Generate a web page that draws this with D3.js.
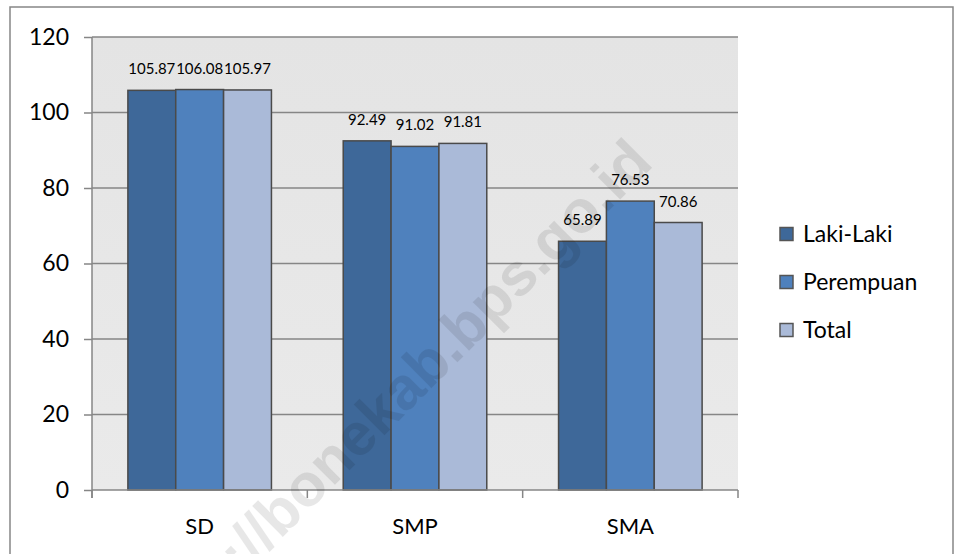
<!DOCTYPE html>
<html>
<head>
  <meta charset="utf-8">
  <title>d3-bar</title>
  <script src="https://d3js.org/d3.v7.min.js"></script>
  <style>
    body { margin: 0; background: #fff; }
    text { font-family: Lato, "Noto Sans", sans-serif; fill: #000; }
  </style>
</head>
<body>
  <script>
    // data
    const categories = ['SD', 'SMP', 'SMA'];
    const series = ['Laki-Laki', 'Perempuan', 'Total'];
    const lakiLaki = [105.87, 92.49, 65.89];
    const perempuan = [106.08, 91.02, 76.53];
    const total = [105.97, 91.81, 70.86];
    const yTicks = [0, 20, 40, 60, 80, 100, 120];
    const colors = ['#3E6899', '#4F81BD', '#AABAD8'];

    const values = [lakiLaki, perempuan, total];
    const rows = categories.map((c, i) => ({
      cat: c,
      vals: series.map((s, j) => ({ key: s, v: values[j][i] }))
    }));

    const width = 956, height = 554;
    const mLeft = 92, mRight = 738, mTop = 37, mBottom = 490;

    let svg = d3.select('body').append('svg')
      .attr('width', width).attr('height', height);

    // outer frame
    svg.append('rect')
      .attr('x', 10).attr('y', 7).attr('width', 943).attr('height', 560)
      .attr('fill', '#fff').attr('stroke', '#868686').attr('stroke-width', 1.5);

    let defs = svg.append('defs');
    let grad = defs.append('linearGradient').attr('id', 'bg')
      .attr('x1', 0).attr('y1', 0).attr('x2', 0).attr('y2', 1);
    grad.append('stop').attr('offset', '0%').attr('stop-color', '#E4E4E4');
    grad.append('stop').attr('offset', '100%').attr('stop-color', '#EAEAEA');

    let y = d3.scaleLinear().domain([0, 120]).range([mBottom, mTop]);
    let x = d3.scaleBand().domain(categories).range([mLeft, mRight]).padding(0);
    let xs = d3.scaleBand().domain(series).range([0, x.bandwidth()])
      .paddingInner(0).paddingOuter(0.75);
    let color = d3.scaleOrdinal().domain(series).range(colors);

    // plot area
    svg.append('rect')
      .attr('x', mLeft).attr('y', mTop)
      .attr('width', mRight - mLeft).attr('height', mBottom - mTop)
      .attr('fill', 'url(#bg)');

    // grid
    svg.append('g').selectAll('line')
      .data(yTicks.filter(d => d > 0))
      .enter().append('line')
      .attr('x1', mLeft).attr('x2', mRight)
      .attr('y1', d => y(d)).attr('y2', d => y(d))
      .attr('stroke', '#868686').attr('stroke-width', 1.5);

    // bars
    let groups = svg.append('g').selectAll('g')
      .data(rows).enter().append('g')
      .attr('transform', d => `translate(${x(d.cat)},0)`);

    groups.selectAll('rect')
      .data(d => d.vals).enter().append('rect')
      .attr('x', d => xs(d.key))
      .attr('y', d => y(d.v))
      .attr('width', xs.bandwidth())
      .attr('height', d => y(0) - y(d.v))
      .attr('fill', d => color(d.key))
      .attr('stroke', '#4A4A4A').attr('stroke-width', 1.5);

    groups.selectAll('text')
      .data(d => d.vals).enter().append('text')
      .attr('x', d => xs(d.key) + xs.bandwidth() / 2)
      .attr('y', d => y(d.v) - 16)
      .attr('text-anchor', 'middle')
      .style('font-size', '15px')
      .text(d => d.v.toFixed(2));

    // y axis
    let yAxis = d3.axisLeft(y).tickValues(yTicks).tickSize(8).tickSizeOuter(0).tickPadding(15);
    let gy = svg.append('g').attr('transform', `translate(${mLeft},0)`).call(yAxis);
    gy.select('.domain').attr('stroke', '#868686').attr('stroke-width', 1.5)
      .attr('d', `M0,${mTop}V${mBottom + 8}`);
    gy.selectAll('.tick line').attr('stroke', '#868686').attr('stroke-width', 1.5);
    gy.selectAll('.tick text').style('font-size', '23px')
      .style('font-family', 'Lato, "Noto Sans", sans-serif').attr('fill', '#000');

    // x axis
    let xAxis = d3.axisBottom(x).tickSize(0).tickPadding(28);
    let gx = svg.append('g').attr('transform', `translate(0,${mBottom})`).call(xAxis);
    gx.select('.domain').attr('stroke', '#868686').attr('stroke-width', 1.5)
      .attr('d', `M${mLeft},0H${mRight}`);
    gx.selectAll('.tick text').style('font-size', '22px')
      .style('font-family', 'Lato, "Noto Sans", sans-serif').attr('fill', '#000');
    let bounds = categories.map(c => x(c)).concat([x(categories[categories.length - 1]) + x.bandwidth()]);
    gx.selectAll('.bound').data(bounds).enter().append('line')
      .attr('x1', d => d).attr('x2', d => d).attr('y1', 0).attr('y2', 8)
      .attr('stroke', '#868686').attr('stroke-width', 1.5);

    // legend
    let legend = svg.append('g').selectAll('g')
      .data(series).enter().append('g')
      .attr('transform', (d, i) => `translate(780,${234 + i * 48})`);
    legend.append('rect')
      .attr('x', 0).attr('y', -6.5).attr('width', 13).attr('height', 13)
      .attr('fill', d => color(d)).attr('stroke', '#555').attr('stroke-width', 1.5);
    legend.append('text')
      .attr('x', 23).attr('y', 0).attr('dy', '0.35em')
      .style('font-size', '23px')
      .text(d => d);

    // watermark
    svg.append('text')
      .attr('transform', 'translate(640,150) rotate(-45)')
      .attr('text-anchor', 'end')
      .attr('dy', '0.35em')
      .style('font-family', '"Liberation Sans", Arial, sans-serif')
      .style('font-weight', 'bold')
      .style('font-size', '60px')
      .style('fill', '#000')
      .style('opacity', 0.09)
      .text('https://bonekab.bps.go.id');
  </script>
</body>
</html>
